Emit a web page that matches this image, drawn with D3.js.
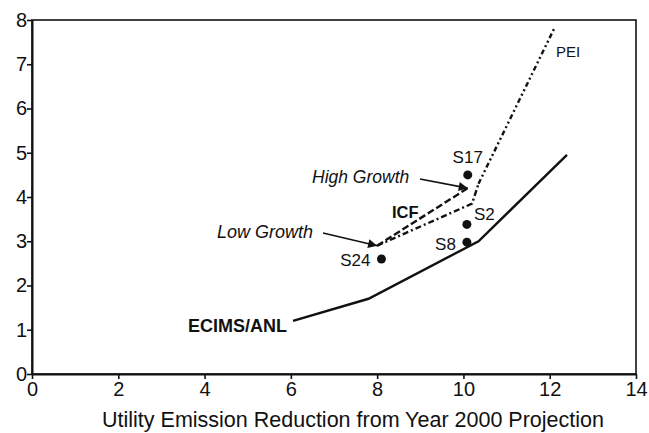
<!DOCTYPE html>
<html>
<head>
<meta charset="utf-8">
<script src="https://cdn.jsdelivr.net/npm/d3@7"></script>
<style>
  body { margin: 0; background: #fff; }
  text { font-family: "Liberation Sans", Arial, sans-serif; fill: #111; }
</style>
</head>
<body>
<svg id="chart" width="649" height="433"></svg>
<script>
'use strict';

// values
const xTicks = [0, 2, 4, 6, 8, 10, 12, 14]
const yTicks = [0, 1, 2, 3, 4, 5, 6, 7, 8]
const xTitle = 'Utility Emission Reduction from Year 2000 Projection'

const ecims = [[6.05, 1.2], [7.8, 1.7], [10.35, 3.0], [12.4, 4.95]]
const icfHigh = [[8.0, 2.9], [10.1, 4.2]]
const icfLow = [[8.0, 2.9], [10.2, 3.85], [10.35, 4.3]]
const pei = [[10.35, 4.3], [12.1, 7.8]]

const scenarios = [
    { name: 'S17', x: 10.1, y: 4.5 },
    { name: 'S2', x: 10.08, y: 3.38 },
    { name: 'S8', x: 10.08, y: 2.98 },
    { name: 'S24', x: 8.1, y: 2.6 }
]

const svg = d3.select('#chart')
const margin = { left: 32, right: 13, top: 20, bottom: 59 }
const W = 649, H = 433

let x = d3.scaleLinear().domain([0, 14]).range([margin.left, W - margin.right])
let y = d3.scaleLinear().domain([0, 8]).range([H - margin.bottom, margin.top])

svg.append('defs').append('marker')
    .attr('id', 'arrow')
    .attr('viewBox', '0 0 10 10')
    .attr('refX', 10).attr('refY', 5)
    .attr('markerWidth', 10).attr('markerHeight', 9)
    .attr('markerUnits', 'userSpaceOnUse')
    .attr('orient', 'auto')
    .append('path')
    .attr('d', 'M0 0 L10 5 L0 10 Z')
    .attr('fill', '#111')

// frame
svg.append('rect')
    .attr('x', x(0)).attr('y', y(8))
    .attr('width', x(14) - x(0)).attr('height', y(0) - y(8))
    .attr('fill', 'none').attr('stroke', '#111').attr('stroke-width', 1.6)

let xAxis = svg.append('g')
    .attr('transform', 'translate(0,' + y(0) + ')')
    .call(d3.axisBottom(x).tickValues(xTicks).tickSize(5).tickSizeOuter(0))
let yAxis = svg.append('g')
    .attr('transform', 'translate(' + x(0) + ',0)')
    .call(d3.axisLeft(y).tickValues(yTicks).tickSize(5).tickSizeOuter(0))

;[xAxis, yAxis].forEach(function(a) {
    a.select('.domain').attr('stroke', '#111').attr('stroke-width', 2)
    a.selectAll('.tick line').attr('stroke', '#111').attr('stroke-width', 1.6)
    a.selectAll('.tick text')
        .style('font-family', '"Liberation Sans", Arial, sans-serif')
        .style('font-size', '20px').attr('fill', '#111')
})
xAxis.selectAll('.tick text').attr('dy', '0.9em').attr('y', 4)
yAxis.selectAll('.tick text').attr('x', -5)

svg.append('text')
    .attr('x', 353).attr('y', 427)
    .attr('text-anchor', 'middle')
    .style('font-size', '21.5px')
    .text(xTitle)

let line = d3.line().x(d => x(d[0])).y(d => y(d[1]))

let drawLine = function(data, dash) {
    svg.append('path')
        .datum(data)
        .attr('d', line)
        .attr('fill', 'none')
        .attr('stroke', '#111')
        .attr('stroke-width', 2.4)
        .attr('stroke-dasharray', dash)
}
drawLine(ecims, null)
drawLine(icfHigh, '7,3')
drawLine(icfLow, '6,3,2,3')
drawLine(pei, '5,3,2,3,2,3')

svg.selectAll('circle.scn')
    .data(scenarios)
    .enter().append('circle')
    .attr('class', 'scn')
    .attr('cx', d => x(d.x)).attr('cy', d => y(d.y))
    .attr('r', 4.5).attr('fill', '#111')

// point labels
let lbl = function(tx, ty, s, opts) {
    opts = opts || {}
    svg.append('text')
        .attr('x', tx).attr('y', ty)
        .style('font-size', (opts.size || 17) + 'px')
        .style('font-weight', opts.bold ? 'bold' : 'normal')
        .style('font-style', opts.italic ? 'italic' : 'normal')
        .attr('text-anchor', opts.anchor || 'start')
        .text(s)
}
lbl(x(10.1), y(4.5) - 12, 'S17', { anchor: 'middle' })
lbl(x(10.08) + 7, y(3.38) - 4, 'S2')
lbl(x(10.08) - 11, y(2.98) + 8, 'S8', { anchor: 'end' })
lbl(x(8.1) - 11, y(2.6) + 7, 'S24', { anchor: 'end' })
lbl(556, 57, 'PEI', { size: 15 })
lbl(392, 218, 'ICF', { size: 16.5, bold: true })
lbl(188, 332, 'ECIMS/ANL', { size: 18, bold: true })
lbl(312, 183, 'High Growth', { size: 17.5, italic: true })
lbl(217, 238, 'Low Growth', { size: 18, italic: true })

// pointer arrows
let arrow = function(x1, y1, d) {
    svg.append('line')
        .attr('x1', x1).attr('y1', y1)
        .attr('x2', x(d[0])).attr('y2', y(d[1]))
        .attr('stroke', '#111').attr('stroke-width', 1.6)
        .attr('marker-end', 'url(#arrow)')
}
arrow(420, 179, icfHigh[1])
arrow(323, 233, icfLow[0])
</script>
</body>
</html>
